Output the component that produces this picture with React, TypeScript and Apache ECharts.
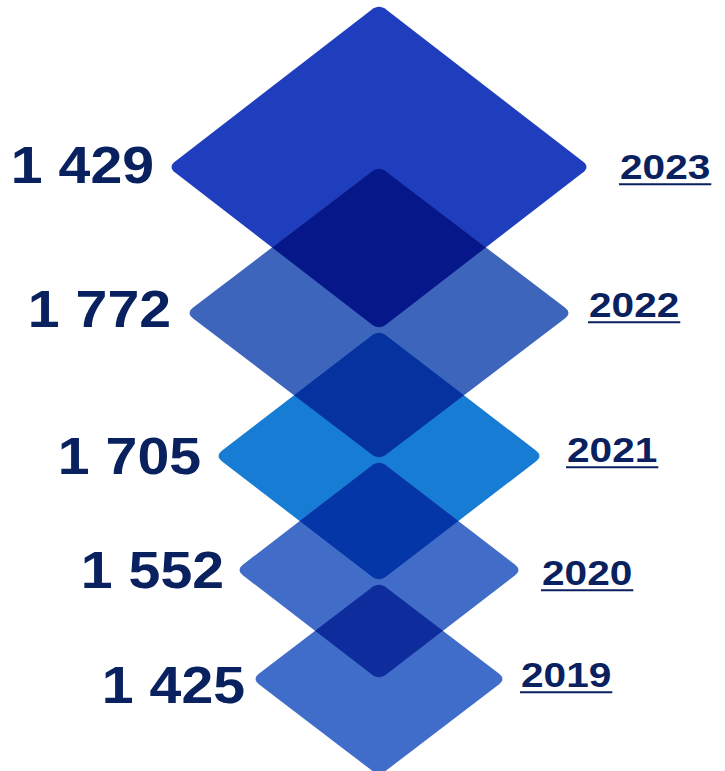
import React, { useEffect, useRef } from "react";
import * as echarts from "echarts";

// ---- data ----
const years = ["2023", "2022", "2021", "2020", "2019"];
const values = [1429, 1772, 1705, 1552, 1425];

// ---- layout (pixel units of the hidden axes) ----
const CX = 379;
const centerY = [167, 313, 456, 570, 679];
const halfW = [211, 193, 164, 143, 127];
const halfH = [163, 147, 126, 110, 97];
const valueRightX = [154, 171, 201, 224, 245];
const valueMidY = [165, 309, 456, 570, 685];
const yearLeftX = [620, 589, 567, 542, 521];
const yearMidY = [167, 305, 450, 573, 675];

// ---- styles ----
const diamondColors = ["#1F3EBD", "#3D65BC", "#177CD3", "#416DC9", "#416DCA"];
const overlapColors = ["#061789", "#0632A0", "#0536A7", "#0F2C9D"];
const TEXT_COLOR = "#0A2160";
const FONT = '"Liberation Sans", Arial, Helvetica, sans-serif';
const VALUE_SIZE = 52;
const YEAR_SIZE = 35;
const VALUE_STRETCH = 1.1;
const YEAR_STRETCH = 1.16;
const RADIUS = 9;

function fmt(v: number): string {
  const th = Math.floor(v / 1000);
  const rest = String(v % 1000).padStart(3, "0");
  return th > 0 ? `${th} ${rest}` : String(v);
}

function roundedPoly(verts: number[][], radii: number[], seg = 8): number[][] {
  const out: number[][] = [];
  const n = verts.length;
  for (let i = 0; i < n; i++) {
    const V = verts[i];
    const P = verts[(i - 1 + n) % n];
    const N = verts[(i + 1) % n];
    const r = radii[i];
    if (r <= 0) {
      out.push(V);
      continue;
    }
    const lp = Math.hypot(P[0] - V[0], P[1] - V[1]);
    const ln = Math.hypot(N[0] - V[0], N[1] - V[1]);
    const a = [V[0] + ((P[0] - V[0]) / lp) * r, V[1] + ((P[1] - V[1]) / lp) * r];
    const b = [V[0] + ((N[0] - V[0]) / ln) * r, V[1] + ((N[1] - V[1]) / ln) * r];
    for (let k = 0; k <= seg; k++) {
      const t = k / seg;
      const u = 1 - t;
      out.push([
        u * u * a[0] + 2 * u * t * V[0] + t * t * b[0],
        u * u * a[1] + 2 * u * t * V[1] + t * t * b[1],
      ]);
    }
  }
  return out;
}

export default function App() {
  const ref = useRef<HTMLDivElement>(null);

  useEffect(() => {
    if (!ref.current) return;
    const chart = echarts.init(ref.current, null, { renderer: "svg" });

    const mainData = years.map((y, i) => [i, values[i]]);
    const overlapData = years.slice(0, -1).map((y, i) => [i, values[i]]);

    chart.setOption({
      animation: false,
      backgroundColor: "#ffffff",
      grid: { left: 0, right: 0, top: 0, bottom: 0 },
      xAxis: { type: "value", min: 0, max: 725, show: false },
      yAxis: { type: "value", min: 0, max: 771, inverse: true, show: false },
      series: [
        {
          type: "custom",
          clip: false,
          data: mainData,
          renderItem: (params: any, api: any) => {
            const i = params.dataIndex;
            const cy = centerY[i];
            const w = halfW[i];
            const h = halfH[i];
            const verts = [
              api.coord([CX, cy - h]),
              api.coord([CX + w, cy]),
              api.coord([CX, cy + h]),
              api.coord([CX - w, cy]),
            ];
            const pts = roundedPoly(verts, [RADIUS, RADIUS, RADIUS, RADIUS]);
            const vPos = api.coord([valueRightX[i], valueMidY[i]]);
            const yPos = api.coord([yearLeftX[i], yearMidY[i]]);
            const yearW = years[i].length * 0.556 * YEAR_SIZE * YEAR_STRETCH;
            const ulY = yPos[1] + YEAR_SIZE * 0.49;
            return {
              type: "group",
              children: [
                {
                  type: "polygon",
                  shape: { points: pts },
                  style: { fill: diamondColors[i] },
                },
                {
                  type: "text",
                  x: vPos[0],
                  y: vPos[1],
                  scaleX: VALUE_STRETCH,
                  style: {
                    text: fmt(api.value(1)),
                    x: 0,
                    y: 0,
                    fill: TEXT_COLOR,
                    fontSize: VALUE_SIZE,
                    fontWeight: "bold",
                    fontFamily: FONT,
                    align: "right",
                    verticalAlign: "middle",
                  },
                },
                {
                  type: "text",
                  x: yPos[0],
                  y: yPos[1],
                  scaleX: YEAR_STRETCH,
                  style: {
                    text: years[i],
                    x: 0,
                    y: 0,
                    fill: TEXT_COLOR,
                    fontSize: YEAR_SIZE,
                    fontWeight: "bold",
                    fontFamily: FONT,
                    align: "left",
                    verticalAlign: "middle",
                  },
                },
                {
                  type: "line",
                  shape: {
                    x1: yPos[0] - 1,
                    y1: ulY,
                    x2: yPos[0] + yearW + 1,
                    y2: ulY,
                  },
                  style: { stroke: TEXT_COLOR, lineWidth: 2 },
                },
              ],
            };
          },
        },
        {
          type: "custom",
          clip: false,
          data: overlapData,
          z: 3,
          renderItem: (params: any, api: any) => {
            const i = params.dataIndex;
            const ya = centerY[i], wa = halfW[i], ha = halfH[i];
            const yb = centerY[i + 1], wb = halfW[i + 1], hb = halfH[i + 1];
            const sa = ha / wa;
            const sb = hb / wb;
            const dx = (ya + ha - yb + hb) / (sa + sb);
            const my = yb - hb + sb * dx;
            const verts = [
              api.coord([CX, yb - hb]),
              api.coord([CX + dx, my]),
              api.coord([CX, ya + ha]),
              api.coord([CX - dx, my]),
            ];
            const pts = roundedPoly(verts, [RADIUS, 0, RADIUS, 0]);
            return {
              type: "polygon",
              shape: { points: pts },
              style: { fill: overlapColors[i] },
            };
          },
        },
      ],
    });

    return () => chart.dispose();
  }, []);

  return (
    <div
      ref={ref}
      style={{ position: "fixed", left: 0, top: 0, width: 725, height: 771 }}
    />
  );
}
